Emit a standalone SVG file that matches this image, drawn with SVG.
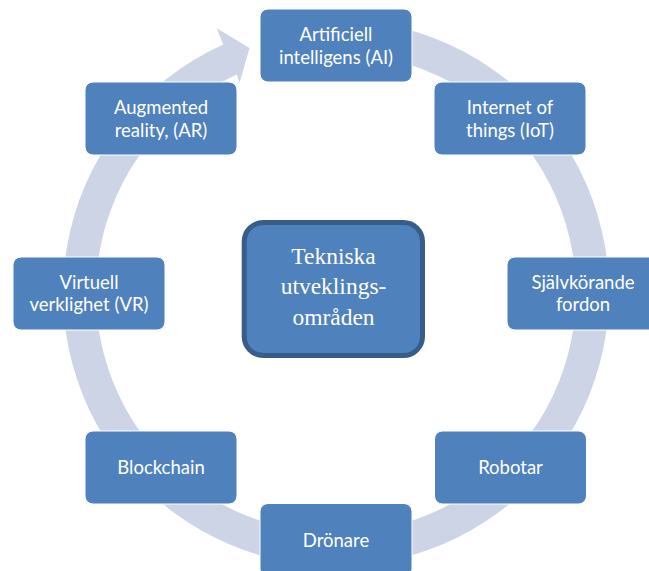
<svg xmlns="http://www.w3.org/2000/svg" width="649" height="571" viewBox="0 0 649 571">
  <style>
    .ring { fill: #CDD4E5; }
    .node rect { fill: #4F81BD; stroke: #FFFFFF; stroke-width: 1; }
    .node text { fill: #FFFFFF; font-family: Lato, "Open Sans", "Liberation Sans", sans-serif; font-size: 18.5px; text-anchor: middle; }
    .hub rect { fill: #4F81BD; stroke: #385D8A; stroke-width: 5; }
    .hub text { fill: #FFFFFF; font-family: "Liberation Serif", "Times New Roman", serif; font-size: 23.5px; text-anchor: middle; }
  </style>
  <rect width="649" height="571" fill="#FFFFFF"/>

  <!-- circular cycle band with arrowhead, centre (336,293) -->
  <g id="connectors">
    <path class="ring" d="M336,20 A273,273 0 1,1 223.2,44.4 L216.7,28.3 L249.5,48 L239.5,83 L236.9,74.4 A240,240 0 1,0 336,53 Z"/>
  </g>

  <!-- hub -->
  <g id="hub" class="hub">
    <rect x="244.2" y="222.5" width="178.3" height="133" rx="19" ry="19"/>
    <text x="333.5" y="263.5">Tekniska</text>
    <text x="333.5" y="294">utveklings-</text>
    <text x="333.5" y="325">områden</text>
  </g>

  <!-- cycle nodes, 152 x 73 -->
  <g id="node-ai" class="node">
    <rect x="260" y="9" width="152" height="73" rx="8" ry="8"/>
    <text x="336" y="41.2">Artificiell</text>
    <text x="336" y="63.7">intelligens (AI)</text>
  </g>
  <g id="node-iot" class="node">
    <rect x="434" y="82" width="152" height="73" rx="8" ry="8"/>
    <text x="510" y="114">Internet of</text>
    <text x="510" y="136.5">things (IoT)</text>
  </g>
  <g id="node-sjalvkorande" class="node">
    <rect x="507" y="257" width="152" height="73" rx="8" ry="8"/>
    <text x="583" y="288.5">Självkörande</text>
    <text x="583" y="311">fordon</text>
  </g>
  <g id="node-robotar" class="node">
    <rect x="434.5" y="431" width="152" height="73" rx="8" ry="8"/>
    <text x="510.5" y="474">Robotar</text>
  </g>
  <g id="node-dronare" class="node">
    <rect x="260" y="503.5" width="152" height="73" rx="8" ry="8"/>
    <text x="336" y="546.5">Drönare</text>
  </g>
  <g id="node-blockchain" class="node">
    <rect x="85" y="431" width="152" height="73" rx="8" ry="8"/>
    <text x="161" y="474">Blockchain</text>
  </g>
  <g id="node-vr" class="node">
    <rect x="13" y="257" width="152" height="73" rx="8" ry="8"/>
    <text x="89" y="288.5">Virtuell</text>
    <text x="89" y="311">verklighet (VR)</text>
  </g>
  <g id="node-ar" class="node">
    <rect x="85" y="82" width="152" height="73" rx="8" ry="8"/>
    <text x="161" y="114">Augmented</text>
    <text x="161" y="136.5">reality, (AR)</text>
  </g>
</svg>
